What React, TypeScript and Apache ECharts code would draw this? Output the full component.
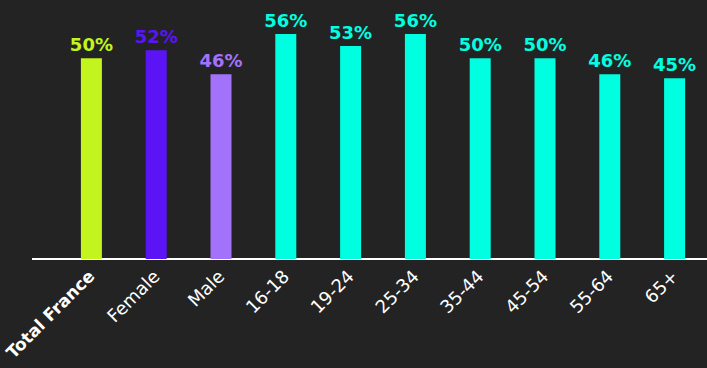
import React, { useEffect, useRef } from "react";
import * as echarts from "echarts";

const categories = ["Total France", "Female", "Male", "16-18", "19-24", "25-34", "35-44", "45-54", "55-64", "65+"];
const values = [50, 52, 46, 56, 53, 56, 50, 50, 46, 45];
const colors = ["#C2F51E", "#5B14F5", "#A372FA", "#00FFE1", "#00FFE1", "#00FFE1", "#00FFE1", "#00FFE1", "#00FFE1", "#00FFE1"];

export default function App() {
  const ref = useRef<HTMLDivElement>(null);
  useEffect(() => {
    if (!ref.current) return;
    const chart = echarts.init(ref.current, undefined, { renderer: "svg" });
    chart.setOption({
      animation: false,
      backgroundColor: "#232323",
      grid: { left: 59, right: 0, top: 18, bottom: 109, containLabel: false, outerBoundsMode: "none" },
      xAxis: {
        type: "category",
        data: categories,
        axisLine: { show: false },
        axisTick: { show: false },
        axisLabel: {
          rotate: 45,
          margin: 14,
          color: "#ffffff",
          fontFamily: "DejaVu Sans",
          fontWeight: "normal",
          fontSize: 18,
          formatter: (v: string) => (v === "Total France" ? "{b|" + v + "}" : v),
          rich: { b: { fontWeight: "bold", fontSize: 17, color: "#ffffff", fontFamily: "DejaVu Sans" } },
        },
      },
      yAxis: { type: "value", min: 0, max: 60, show: false, splitLine: { show: false } },
      graphic: [
        { type: "line", shape: { x1: 32, y1: 259, x2: 707, y2: 259 }, style: { stroke: "#ffffff", lineWidth: 2 } },
      ],
      series: [
        {
          type: "bar",
          barWidth: 21,
          data: values.map((v, i) => ({
            value: v,
            itemStyle: { color: colors[i] },
            label: { color: colors[i] },
          })),
          label: {
            show: true,
            position: "top",
            distance: 5,
            formatter: "{c}%",
            fontFamily: "DejaVu Sans",
            fontWeight: "bold",
            fontSize: 18,
          },
        },
      ],
    });
    return () => chart.dispose();
  }, []);
  return <div ref={ref} style={{ position: "fixed", left: 0, top: 0, width: 707, height: 368 }} />;
}
